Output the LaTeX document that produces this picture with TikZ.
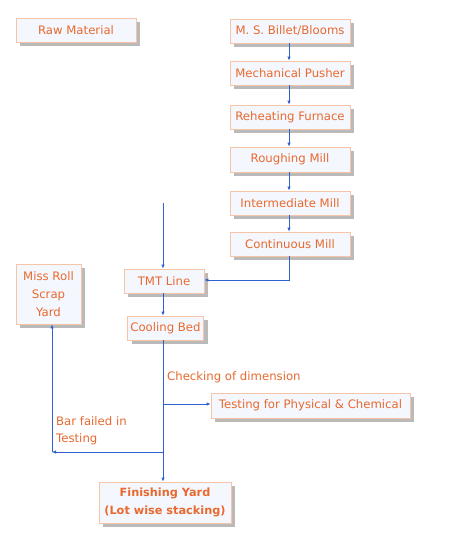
\documentclass[tikz,border=0pt]{standalone}
\usepackage{fontspec}
\setmainfont{DejaVu Sans}
\usetikzlibrary{arrows.meta,shadows}
\definecolor{txtor}{HTML}{E8692E}
\definecolor{boxbd}{HTML}{F6C4A6}
\definecolor{boxfill}{HTML}{F4F7FD}
\definecolor{lnblue}{HTML}{2F5FD0}
\tikzset{
  pbox/.style={draw=boxbd, fill=boxfill, text=txtor, line width=0.8pt,
    drop shadow={shadow xshift=4pt, shadow yshift=-4pt, fill=black!27, opacity=1},
    inner sep=0pt, align=center, font=\fontsize{11.7}{18}\selectfont},
  conn/.style={draw=lnblue, line width=1pt},
  arr/.style={conn, -{Latex[length=4pt,width=3.5pt]}},
  lbl/.style={text=txtor, font=\fontsize{11.7}{17}\selectfont, inner sep=0pt, align=left}
}
\begin{document}
\begin{tikzpicture}[x=1pt,y=-1pt]
\useasboundingbox[fill=white] (0,0) rectangle (474,552);
\node[pbox, minimum width=120pt, minimum height=24pt] (raw) at (76,30) {Raw Material};
\node[pbox, minimum width=120pt, minimum height=24pt] (bil) at (290,31) {M. S. Billet/Blooms};
\node[pbox, minimum width=120pt, minimum height=24pt] (pus) at (290,73) {Mechanical Pusher};
\node[pbox, minimum width=120pt, minimum height=24pt] (reh) at (290,117) {Reheating Furnace};
\node[pbox, minimum width=120pt, minimum height=25pt] (rou) at (290,159.5) {Roughing Mill};
\node[pbox, minimum width=120pt, minimum height=24pt] (int) at (290,203) {Intermediate Mill};
\node[pbox, minimum width=120pt, minimum height=24pt] (con) at (290,244) {Continuous Mill};
\node[pbox, minimum width=80pt, minimum height=24pt] (tmt) at (164,281) {TMT Line};
\node[pbox, minimum width=76pt, minimum height=24pt] (coo) at (165.5,328) {Cooling Bed};
\node[pbox, minimum width=65pt, minimum height=60pt] (mis) at (48.5,294) {Miss Roll\\Scrap\\Yard};
\node[pbox, minimum width=199pt, minimum height=25pt] (tes) at (310.5,405.5) {Testing for Physical \& Chemical};
\node[pbox, minimum width=132pt, minimum height=41pt, font=\fontsize{11.3}{18}\selectfont\bfseries] (fin) at (165,502.5) {Finishing Yard\\(Lot wise stacking)};
\node[lbl, anchor=west] (chk) at (167,377) {Checking of dimension};
\node[lbl, anchor=west] (bar) at (56,430.5) {Bar failed in\\Testing};
\coordinate (top) at (163,203);
\coordinate (cj) at (289,280);
\coordinate (tj) at (163,404);
\coordinate (bj) at (163,452);
\coordinate (bl) at (52,452);
\draw[arr] ([xshift=-1pt]bil.south) -- ([xshift=-1pt]pus.north);
\draw[arr] ([xshift=-1pt]pus.south) -- ([xshift=-1pt]reh.north);
\draw[arr] ([xshift=-1pt]reh.south) -- ([xshift=-1pt]rou.north);
\draw[arr] ([xshift=-1pt]rou.south) -- ([xshift=-1pt]int.north);
\draw[arr] ([xshift=-1pt]int.south) -- ([xshift=-1pt]con.north);
\draw[arr] ([xshift=-1pt]con.south) -- (cj) -- (tmt.east |- cj);
\draw[arr] (top) -- (top |- tmt.north);
\draw[arr] (top |- tmt.south) -- (top |- coo.north);
\draw[arr] (top |- coo.south) -- (top |- fin.north);
\draw[arr] (tj) -- (tes.west |- tj);
\draw[arr] (bj) -- (bl);
\draw[arr] (bl) -- (bl |- mis.south);
\end{tikzpicture}
\end{document}
